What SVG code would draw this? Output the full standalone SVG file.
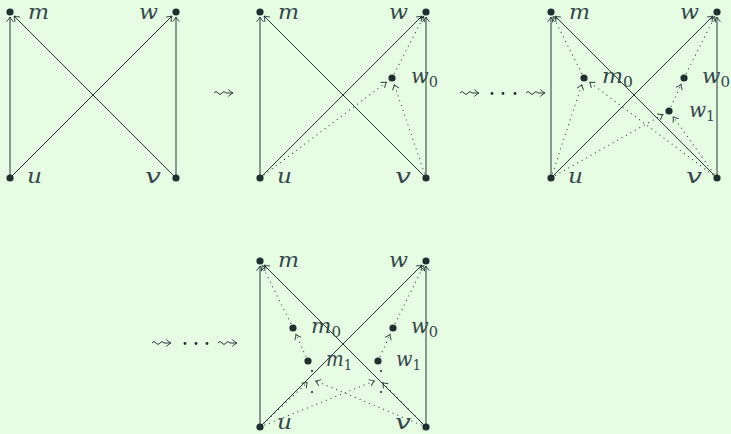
<svg xmlns="http://www.w3.org/2000/svg" width="731" height="434" viewBox="0 0 731 434">
<defs>
<style>
.c{stroke:#243838;stroke-width:1;fill:none;marker-end:url(#to)}
.d{stroke:#243838;stroke-width:1.1;fill:none;stroke-dasharray:0.1 5;stroke-linecap:round;marker-end:url(#to)}
.s{stroke:#243838;stroke-width:1;fill:none;marker-end:url(#to)}
.n{fill:#1e3030}
.l{font-family:"DejaVu Serif","Liberation Serif",serif;font-style:italic;font-size:20px;fill:#34474a}
.sub{font-style:normal;font-size:14px}
.e{fill:#1e3030}
</style>
<marker id="to" markerUnits="userSpaceOnUse" orient="auto" markerWidth="12" markerHeight="12" refX="0" refY="0" viewBox="-6 -6 12 12" overflow="visible">
<path d="M-4.5,-3.2 Q-1.5,-0.6 0,0 Q-1.5,0.6 -4.5,3.2" stroke="#243838" stroke-width="0.9" fill="none" stroke-linecap="round"/>
</marker>
</defs>
<rect width="731" height="434" fill="#e6fde4"/>
<g id="connectors">
<path class="c" d="M10,178 L10,17"/>
<path class="c" d="M176,178 L176,17"/>
<path class="c" d="M10,178 L172,16"/>
<path class="c" d="M176,178 L14,16"/>
<path class="c" d="M260,178 L260,17"/>
<path class="c" d="M426,178 L426,17"/>
<path class="c" d="M260,178 L422,16"/>
<path class="c" d="M426,178 L264,16"/>
<path class="d" d="M260,178 L386.4,82.2"/>
<path class="d" d="M426,178 L394.3,84.6"/>
<path class="d" d="M392,78 L423.7,16.4"/>
<path class="c" d="M551,178 L551,17"/>
<path class="c" d="M717,178 L717,17"/>
<path class="c" d="M551,178 L713,16"/>
<path class="c" d="M717,178 L555,16"/>
<path class="d" d="M551,178 L581.8,84.6"/>
<path class="d" d="M717,178 L589.6,82.2"/>
<path class="d" d="M584,78 L553.2,16.5"/>
<path class="d" d="M684,78 L714.8,16.5"/>
<path class="d" d="M669,111 L681.1,84.4"/>
<path class="d" d="M551,178 L662.9,114.5"/>
<path class="d" d="M717,178 L673.1,116.7"/>
<path class="c" d="M260,427 L260,266"/>
<path class="c" d="M426,427 L426,266"/>
<path class="c" d="M260,427 L422,265"/>
<path class="c" d="M426,427 L264,265"/>
<path class="d" d="M293,328 L262.2,265.5"/>
<path class="d" d="M393,328 L423.8,265.5"/>
<path class="d" d="M308,361 L295.9,334.4"/>
<path class="d" d="M378,361 L390.1,334.4"/>
<path class="d" d="M260,427 L307.4,382.4"/>
<path class="d" d="M426,427 L315.6,380.9"/>
<path class="d" d="M260,427 L374.4,380.9"/>
<path class="d" d="M426,427 L382.5,382.6"/>
<circle class="e" cx="312" cy="371" r="1.1"/>
<circle class="e" cx="312" cy="392" r="1.1"/>
<circle class="e" cx="381" cy="371" r="1.1"/>
<circle class="e" cx="381" cy="392" r="1.1"/>
<path class="s" d="M214,93 q2,-3 4,0 t4,0 t4,0 l7,0"/>
<path class="s" d="M460,93 q2,-3 4,0 t4,0 t4,0 l7,0"/>
<path class="s" d="M526,93 q2,-3 4,0 t4,0 t4,0 l7,0"/>
<path class="s" d="M152,343 q2,-3 4,0 t4,0 t4,0 l7,0"/>
<path class="s" d="M218,343 q2,-3 4,0 t4,0 t4,0 l7,0"/>
<circle class="e" cx="492" cy="93.5" r="1.4"/>
<circle class="e" cx="503" cy="93.5" r="1.4"/>
<circle class="e" cx="515" cy="93.5" r="1.4"/>
<circle class="e" cx="185" cy="343.5" r="1.4"/>
<circle class="e" cx="196" cy="343.5" r="1.4"/>
<circle class="e" cx="207" cy="343.5" r="1.4"/>
</g>
<g id="d1-m"><circle class="n" cx="10" cy="12" r="3.6"/><text class="l" x="28" y="18.5" textLength="21" lengthAdjust="spacingAndGlyphs">m</text></g>
<g id="d1-w"><circle class="n" cx="176" cy="12" r="3.6"/><text class="l" x="139" y="18.5" textLength="19" lengthAdjust="spacingAndGlyphs">w</text></g>
<g id="d1-u"><circle class="n" cx="10" cy="178" r="3.6"/><text class="l" x="27" y="183" textLength="15" lengthAdjust="spacingAndGlyphs">u</text></g>
<g id="d1-v"><circle class="n" cx="176" cy="178" r="3.6"/><text class="l" x="145" y="183" textLength="16" lengthAdjust="spacingAndGlyphs">v</text></g>
<g id="d2-m"><circle class="n" cx="260" cy="12" r="3.6"/><text class="l" x="278" y="18.5" textLength="21" lengthAdjust="spacingAndGlyphs">m</text></g>
<g id="d2-w"><circle class="n" cx="426" cy="12" r="3.6"/><text class="l" x="389" y="18.5" textLength="19" lengthAdjust="spacingAndGlyphs">w</text></g>
<g id="d2-u"><circle class="n" cx="260" cy="178" r="3.6"/><text class="l" x="277" y="183" textLength="15" lengthAdjust="spacingAndGlyphs">u</text></g>
<g id="d2-v"><circle class="n" cx="426" cy="178" r="3.6"/><text class="l" x="395" y="183" textLength="16" lengthAdjust="spacingAndGlyphs">v</text></g>
<g id="d2-w0"><circle class="n" cx="392" cy="78" r="3.6"/><text class="l" x="411" y="83" textLength="27" lengthAdjust="spacingAndGlyphs">w<tspan class="sub" dy="4">0</tspan></text></g>
<g id="d3-m"><circle class="n" cx="551" cy="12" r="3.6"/><text class="l" x="569" y="18.5" textLength="21" lengthAdjust="spacingAndGlyphs">m</text></g>
<g id="d3-w"><circle class="n" cx="717" cy="12" r="3.6"/><text class="l" x="680" y="18.5" textLength="19" lengthAdjust="spacingAndGlyphs">w</text></g>
<g id="d3-u"><circle class="n" cx="551" cy="178" r="3.6"/><text class="l" x="568" y="183" textLength="15" lengthAdjust="spacingAndGlyphs">u</text></g>
<g id="d3-v"><circle class="n" cx="717" cy="178" r="3.6"/><text class="l" x="686" y="183" textLength="16" lengthAdjust="spacingAndGlyphs">v</text></g>
<g id="d3-m0"><circle class="n" cx="584" cy="78" r="3.6"/><text class="l" x="602" y="83" textLength="31" lengthAdjust="spacingAndGlyphs">m<tspan class="sub" dy="4">0</tspan></text></g>
<g id="d3-w0"><circle class="n" cx="684" cy="78" r="3.6"/><text class="l" x="702" y="83" textLength="28" lengthAdjust="spacingAndGlyphs">w<tspan class="sub" dy="4">0</tspan></text></g>
<g id="d3-w1"><circle class="n" cx="669" cy="111" r="3.6"/><text class="l" x="689" y="117" textLength="26" lengthAdjust="spacingAndGlyphs">w<tspan class="sub" dy="4">1</tspan></text></g>
<g id="d4-m"><circle class="n" cx="260" cy="261" r="3.6"/><text class="l" x="278" y="267" textLength="21" lengthAdjust="spacingAndGlyphs">m</text></g>
<g id="d4-w"><circle class="n" cx="426" cy="261" r="3.6"/><text class="l" x="389" y="267" textLength="19" lengthAdjust="spacingAndGlyphs">w</text></g>
<g id="d4-u"><circle class="n" cx="260" cy="427" r="3.6"/><text class="l" x="277" y="429" textLength="15" lengthAdjust="spacingAndGlyphs">u</text></g>
<g id="d4-v"><circle class="n" cx="426" cy="427" r="3.6"/><text class="l" x="395" y="429" textLength="16" lengthAdjust="spacingAndGlyphs">v</text></g>
<g id="d4-m0"><circle class="n" cx="293" cy="328" r="3.6"/><text class="l" x="311" y="333" textLength="30" lengthAdjust="spacingAndGlyphs">m<tspan class="sub" dy="4">0</tspan></text></g>
<g id="d4-w0"><circle class="n" cx="393" cy="328" r="3.6"/><text class="l" x="411" y="333" textLength="27" lengthAdjust="spacingAndGlyphs">w<tspan class="sub" dy="4">0</tspan></text></g>
<g id="d4-m1"><circle class="n" cx="308" cy="361" r="3.6"/><text class="l" x="326" y="366" textLength="26" lengthAdjust="spacingAndGlyphs">m<tspan class="sub" dy="4">1</tspan></text></g>
<g id="d4-w1"><circle class="n" cx="378" cy="361" r="3.6"/><text class="l" x="396" y="366" textLength="25" lengthAdjust="spacingAndGlyphs">w<tspan class="sub" dy="4">1</tspan></text></g>
</svg>
